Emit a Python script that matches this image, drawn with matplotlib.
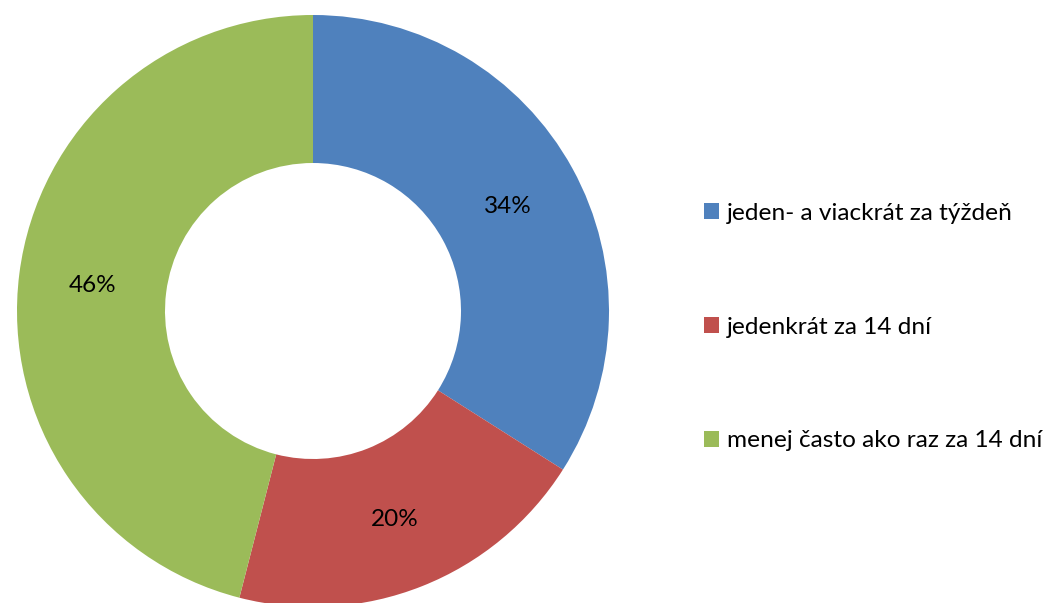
import matplotlib.pyplot as plt

# data
labels = ['jeden- a viackrát za týždeň', 'jedenkrát za 14 dní', 'menej často ako raz za 14 dní']
shares = [34, 20, 46]
colors = ['#4F81BD', '#C0504D', '#9BBB59']

plt.rcParams['font.family'] = ['Lato', 'DejaVu Sans']

fig = plt.figure(figsize=(10.52, 6.03), dpi=100)
ax = fig.add_axes([0, 0, 1, 1])

wedges, texts, autotexts = ax.pie(
    shares, colors=colors, startangle=90, counterclock=False,
    center=(313, 292), radius=296, frame=True,
    autopct='%1.0f%%', pctdistance=0.75,
    wedgeprops=dict(width=148, linewidth=0),
    textprops=dict(fontsize=17.5, color='black'))
for t in autotexts:
    t.set_va('center_baseline')
ax.set_xlim(0, 1052)
ax.set_ylim(0, 603)
ax.axis('off')

leg = ax.legend(wedges, labels, loc='center left', bbox_to_anchor=(704 / 1052, 1 - 327 / 603),
                frameon=False, fontsize=17.6, handlelength=0.6, handleheight=0.6,
                handletextpad=0.35, labelspacing=3.8, borderaxespad=0, borderpad=0)

fig.savefig('out.png', dpi=100)
